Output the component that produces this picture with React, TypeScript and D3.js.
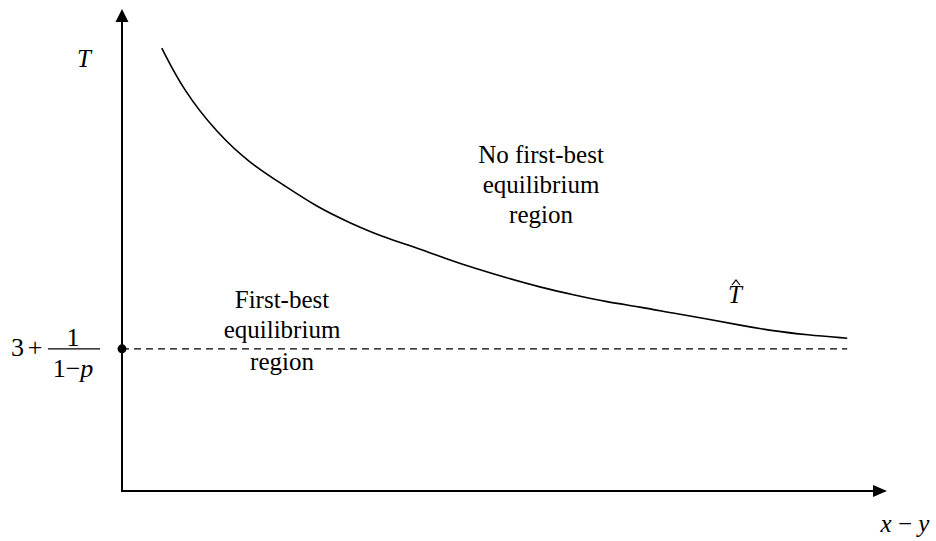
import React from 'react';
import * as d3 from 'd3';

// curve T-hat (abstract units, 0..100 on both axes)
const curveX = [5.2, 8.0, 12.4, 16.7, 21.1, 25.5, 29.8, 34.1, 38.6, 42.5, 45.9, 50.3, 54.6, 59.0, 63.4, 67.7, 72.0, 76.5, 80.8, 85.1, 89.5, 94.8];
const curveY = [91.9, 83.2, 74.3, 68.0, 63.5, 58.9, 55.6, 52.7, 50.4, 48.1, 46.3, 44.2, 42.3, 40.7, 39.2, 38.2, 36.9, 35.7, 34.4, 33.2, 32.4, 31.7];

// horizontal threshold 3 + 1/(1-p)
const thresholdY = 29.5;
const thresholdEndX = 94.8;

const upperLabel = ['No first-best', 'equilibrium', 'region'];
const lowerLabel = ['First-best', 'equilibrium', 'region'];

const W = 936;
const H = 541;
const FONT = 'Liberation Serif';

const App: React.FC = () => {
  const x = d3.scaleLinear().domain([0, 100]).range([122, 887]);
  const y = d3.scaleLinear().domain([0, 100]).range([491, 9]);

  const pts: [number, number][] = curveX.map((v, i) => [v, curveY[i]]);
  const line = d3.line<[number, number]>()
    .x(d => x(d[0]))
    .y(d => y(d[1]))
    .curve(d3.curveBasis);

  const x0 = x(0);
  const y0 = y(0);
  const ty = y(thresholdY);
  const txt = { fontFamily: FONT };

  return (
    <svg width={W} height={H} style={{ position: 'absolute', left: 0, top: 0, background: '#fff' }}>
      {/* axes */}
      <line x1={x0} y1={y0} x2={x0} y2={20} stroke="#000" strokeWidth={2} />
      <path d={`M${x0},${y(100)} L${x0 - 6.5},${22} L${x0 + 6.5},${22} Z`} fill="#000" />
      <line x1={x0 - 1} y1={y0} x2={875} y2={y0} stroke="#000" strokeWidth={2} />
      <path d={`M${x(100)},${y0} L${873},${y0 - 6} L${873},${y0 + 6} Z`} fill="#000" />

      {/* threshold */}
      <line x1={x0} y1={ty} x2={x(thresholdEndX)} y2={ty} stroke="#000" strokeWidth={1.3} strokeDasharray="7,5" />
      <circle cx={x0} cy={ty} r={4.5} fill="#000" />

      {/* curve */}
      <path d={line(pts) ?? ''} fill="none" stroke="#000" strokeWidth={1.6} />

      {/* axis labels */}
      <text x={84} y={67} fontSize={25} fontStyle="italic" textAnchor="middle" style={txt}>T</text>
      <text x={905} y={532} fontSize={25} textAnchor="middle" style={txt}>
        <tspan fontStyle="italic">x</tspan> − <tspan fontStyle="italic">y</tspan>
      </text>

      {/* 3 + 1/(1-p) */}
      <text x={11} y={356} fontSize={26} style={txt}>3</text>
      <text x={35} y={356} fontSize={26} textAnchor="middle" style={txt}>+</text>
      <line x1={48} y1={ty} x2={100} y2={ty} stroke="#000" strokeWidth={1.2} />
      <text x={73} y={346} fontSize={26} textAnchor="middle" style={txt}>1</text>
      <text x={73} y={377} fontSize={26} textAnchor="middle" style={txt}>
        1−<tspan fontStyle="italic">p</tspan>
      </text>

      {/* T hat */}
      <text x={735} y={303} fontSize={25} fontStyle="italic" textAnchor="middle" style={txt}>T</text>
      <path d="M732,285 L736,280 L740,285" fill="none" stroke="#000" strokeWidth={1.2} />

      {/* region labels */}
      {upperLabel.map((s, i) => (
        <text key={'u' + i} x={541} y={163 + i * 30} fontSize={25} textAnchor="middle" style={txt}>{s}</text>
      ))}
      {lowerLabel.map((s, i) => (
        <text key={'l' + i} x={282} y={[308, 338, 370][i]} fontSize={25} textAnchor="middle" style={txt}>{s}</text>
      ))}
    </svg>
  );
};

export default App;
